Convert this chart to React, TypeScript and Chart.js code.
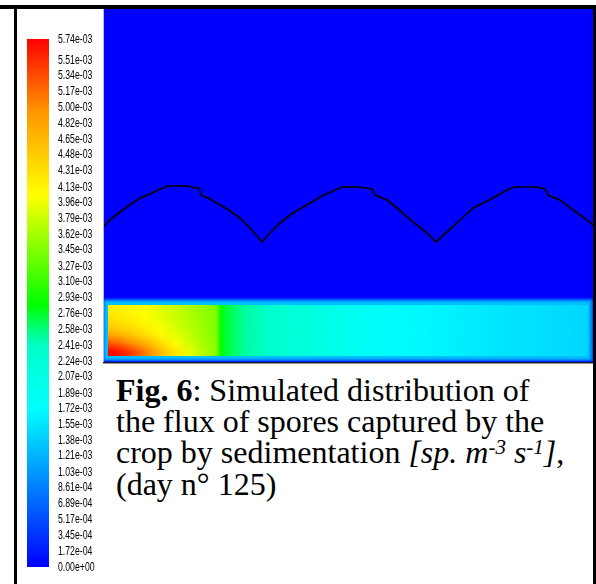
import React, { useEffect, useRef } from 'react';
import { Chart, registerables } from 'chart.js';

Chart.register(...registerables);

// ---- Colour scale (flux of spores, sp. m-3 s-1, values in 1e-3) ----
const legendValues = [
  5.74, 5.51, 5.34, 5.17, 5.0, 4.82, 4.65, 4.48, 4.31, 4.13, 3.96, 3.79, 3.62, 3.45, 3.27, 3.1, 2.93,
  2.76, 2.58, 2.41, 2.24, 2.07, 1.89, 1.72, 1.55, 1.38, 1.21, 1.03, 0.861, 0.689, 0.517, 0.345, 0.172, 0,
];
const legendLabels = [
  '5.74e-03', '5.51e-03', '5.34e-03', '5.17e-03', '5.00e-03', '4.82e-03', '4.65e-03', '4.48e-03',
  '4.31e-03', '4.13e-03', '3.96e-03', '3.79e-03', '3.62e-03', '3.45e-03', '3.27e-03', '3.10e-03',
  '2.93e-03', '2.76e-03', '2.58e-03', '2.41e-03', '2.24e-03', '2.07e-03', '1.89e-03', '1.72e-03',
  '1.55e-03', '1.38e-03', '1.21e-03', '1.03e-03', '8.61e-04', '6.89e-04', '5.17e-04', '3.45e-04',
  '1.72e-04', '0.00e+00',
];
const scaleMin = 0;
const scaleMax = 5.74;
const cmapValues = [0, 1.72, 2.41, 2.85, 4.04, 4.95, 5.74];
const cmapColors = [
  [0, 0, 255], [0, 255, 255], [0, 255, 200], [0, 255, 0], [255, 255, 0], [255, 150, 0], [255, 0, 0],
];

// ---- Domain (m) ----
const domainX = [0, 4.9];
const domainY = [0, 3.54];

// ---- Canopy boundary (black line) ----
const canopyX = [
  0.0, 0.07, 0.17, 0.27, 0.37, 0.47, 0.57, 0.65, 0.84, 0.96, 0.98, 1.07, 1.24, 1.37, 1.47, 1.59,
  1.67, 1.77, 1.9, 2.04, 2.17, 2.3, 2.39, 2.57, 2.69, 2.72, 2.84, 2.94, 3.1, 3.24, 3.33,
  3.44, 3.57, 3.7, 3.9, 4.04, 4.12, 4.34, 4.42, 4.45, 4.57, 4.7, 4.84, 4.9,
];
const canopyY = [
  1.36, 1.43, 1.51, 1.58, 1.65, 1.69, 1.74, 1.77, 1.77, 1.745, 1.68, 1.64, 1.54, 1.45, 1.35, 1.21,
  1.3, 1.4, 1.5, 1.58, 1.66, 1.72, 1.76, 1.76, 1.74, 1.68, 1.63, 1.55, 1.41, 1.3, 1.21,
  1.31, 1.43, 1.55, 1.65, 1.73, 1.76, 1.76, 1.74, 1.68, 1.63, 1.53, 1.43, 1.38,
];

// ---- Crop layer (flux field, 1e-3) ----
const cropX = [0, 4.9];
const cropY = [0.02, 0.64];
const fieldColX = [0.05, 0.15, 0.27, 0.42, 0.57, 0.72, 0.87, 1.02, 1.13, 1.18, 1.25, 1.42, 1.67, 2.07, 2.57, 3.17, 3.97, 4.85];
const fieldRowY = [0.54, 0.455, 0.37, 0.285, 0.2, 0.115];
const fieldRow1 = [4.2, 4.17, 4.1, 4.02, 3.9, 3.78, 3.65, 3.52, 3.42, 2.85, 2.7, 2.5, 2.35, 2.15, 1.85, 1.68, 1.55, 1.45];
const fieldRow2 = [4.28, 4.24, 4.16, 4.06, 3.93, 3.8, 3.67, 3.53, 3.43, 2.85, 2.7, 2.5, 2.35, 2.15, 1.85, 1.68, 1.55, 1.45];
const fieldRow3 = [4.45, 4.4, 4.3, 4.15, 3.99, 3.84, 3.7, 3.55, 3.44, 2.85, 2.7, 2.5, 2.35, 2.15, 1.85, 1.68, 1.55, 1.45];
const fieldRow4 = [4.8, 4.72, 4.56, 4.33, 4.1, 3.92, 3.75, 3.57, 3.45, 2.85, 2.7, 2.5, 2.35, 2.15, 1.85, 1.68, 1.55, 1.45];
const fieldRow5 = [5.3, 5.2, 5.0, 4.7, 4.35, 4.05, 3.82, 3.6, 3.47, 2.85, 2.7, 2.5, 2.35, 2.15, 1.85, 1.68, 1.55, 1.45];
const fieldRow6 = [5.74, 5.66, 5.45, 5.1, 4.65, 4.25, 3.92, 3.65, 3.5, 2.85, 2.7, 2.5, 2.35, 2.15, 1.85, 1.68, 1.55, 1.45];
const fieldRows = [fieldRow1, fieldRow2, fieldRow3, fieldRow4, fieldRow5, fieldRow6];

function cmap(v: number): string {
  const n = cmapValues.length;
  if (v <= cmapValues[0]) return `rgb(${cmapColors[0].join(',')})`;
  if (v >= cmapValues[n - 1]) return `rgb(${cmapColors[n - 1].join(',')})`;
  for (let i = 0; i < n - 1; i++) {
    if (v <= cmapValues[i + 1]) {
      const t = (v - cmapValues[i]) / (cmapValues[i + 1] - cmapValues[i]);
      const a = cmapColors[i];
      const b = cmapColors[i + 1];
      const c = a.map((ai, k) => Math.round(ai + (b[k] - ai) * t));
      return `rgb(${c.join(',')})`;
    }
  }
  return 'rgb(0,0,255)';
}

const fieldPlugin = {
  id: 'fieldPlugin',
  beforeDatasetsDraw(chart: any) {
    const { ctx, chartArea: a, scales } = chart;
    const x = scales.x;
    const y = scales.y;
    ctx.save();
    ctx.fillStyle = 'rgb(0,0,255)';
    ctx.fillRect(a.left, a.top, a.right - a.left, a.bottom - a.top);

    const L = x.getPixelForValue(cropX[0]);
    const R = x.getPixelForValue(cropX[1]);
    const T = y.getPixelForValue(cropY[1]);
    const B = y.getPixelForValue(cropY[0]);
    ctx.filter = 'blur(1px)';
    ctx.fillStyle = 'rgb(0,110,255)';
    ctx.fillRect(L, T, R - L, B - T);
    ctx.fillStyle = 'rgb(0,190,255)';
    ctx.fillRect(L + 1.5, T + 2, R - L - 4, B - T - 3.5);
    ctx.filter = 'none';

    const last = fieldColX.length - 1;
    const fx0 = x.getPixelForValue(fieldColX[0]);
    const fx1 = x.getPixelForValue(fieldColX[last]);
    const w = Math.max(1, Math.round(fx1 - fx0));
    const off = document.createElement('canvas');
    off.width = w;
    off.height = fieldRows.length;
    const oc = off.getContext('2d') as CanvasRenderingContext2D;
    fieldRows.forEach((row, r) => {
      const g = oc.createLinearGradient(0, 0, w, 0);
      row.forEach((v, i) => {
        const p = (x.getPixelForValue(fieldColX[i]) - fx0) / (fx1 - fx0);
        g.addColorStop(Math.min(1, Math.max(0, p)), cmap(v));
      });
      oc.fillStyle = g;
      oc.fillRect(0, r, w, 1);
    });
    const dy = fieldRowY[0] - fieldRowY[1];
    const fy0 = y.getPixelForValue(fieldRowY[0] + dy / 2);
    const fy1 = y.getPixelForValue(fieldRowY[fieldRowY.length - 1] - dy / 2);
    ctx.imageSmoothingEnabled = true;
    ctx.imageSmoothingQuality = 'high';
    ctx.drawImage(off, fx0, fy0, fx1 - fx0, fy1 - fy0);
    ctx.restore();
  },
};

// Narrow tick labels: the axis draws its own labels, squeezed horizontally.
const labelSqueeze = 0.67;
const narrowLabelsPlugin = {
  id: 'narrowLabels',
  beforeDraw(chart: any) {
    const s = chart.scales.y;
    if (!s || s.__narrow) return;
    const orig = s.drawLabels;
    s.drawLabels = function (area: any) {
      const c = chart.ctx;
      const x0 = s.left + (s.options.ticks.padding || 0);
      const savedRight = s.right;
      s.right = savedRight + 200;
      c.save();
      c.translate(x0, 0);
      c.scale(labelSqueeze, 1);
      c.translate(-x0, 0);
      orig.call(s, area);
      c.restore();
      s.right = savedRight;
    };
    s.__narrow = true;
  },
};

export default function App() {
  const mainRef = useRef<HTMLCanvasElement>(null);
  const barRef = useRef<HTMLCanvasElement>(null);

  useEffect(() => {
    const main = new Chart(mainRef.current as HTMLCanvasElement, {
      type: 'scatter',
      data: {
        datasets: [
          {
            data: canopyX.map((xv, i) => ({ x: xv, y: canopyY[i] })),
            showLine: true,
            borderColor: '#000000',
            borderWidth: 1.7,
            pointRadius: 0,
            tension: 0,
            fill: false,
          },
        ],
      },
      options: {
        animation: false,
        responsive: false,
        events: [],
        layout: { padding: 0 },
        plugins: { legend: { display: false }, tooltip: { enabled: false } },
        scales: {
          x: { type: 'linear', min: domainX[0], max: domainX[1], display: false },
          y: { type: 'linear', min: domainY[0], max: domainY[1], display: false },
        },
      },
      plugins: [fieldPlugin],
    } as any);

    const bar = new Chart(barRef.current as HTMLCanvasElement, {
      type: 'bar',
      data: {
        labels: ['flux'],
        datasets: [
          {
            data: [[scaleMin, scaleMax]],
            borderWidth: 0,
            barPercentage: 1,
            categoryPercentage: 1,
            backgroundColor: (c: any) => {
              const ch = c.chart;
              if (!ch.chartArea) return 'blue';
              const ys = ch.scales.y;
              const p0 = ys.getPixelForValue(scaleMin);
              const p1 = ys.getPixelForValue(scaleMax);
              const g = ch.ctx.createLinearGradient(0, p0, 0, p1);
              cmapValues.forEach((v, i) => {
                g.addColorStop((v - scaleMin) / (scaleMax - scaleMin), `rgb(${cmapColors[i].join(',')})`);
              });
              return g;
            },
          },
        ],
      },
      options: {
        animation: false,
        responsive: false,
        events: [],
        layout: { padding: { left: 27, top: 39, bottom: 17, right: 0 } },
        plugins: { legend: { display: false }, tooltip: { enabled: false } },
        scales: {
          x: { display: false },
          y: {
            position: 'right',
            min: scaleMin,
            max: scaleMax,
            afterBuildTicks: (axis: any) => {
              axis.ticks = legendValues.map((v) => ({ value: v }));
            },
            afterFit: (axis: any) => {
              axis.width = 54;
            },
            grid: { display: false, drawTicks: false },
            border: { display: false },
            ticks: {
              autoSkip: false,
              padding: 9,
              color: '#000000',
              font: { family: '"Liberation Sans", Arial, sans-serif', size: 13 },
              callback: (_v: any, i: number) => legendLabels[i],
            },
          },
        },
      },
      plugins: [narrowLabelsPlugin],
    } as any);

    return () => {
      main.destroy();
      bar.destroy();
    };
  }, []);

  const line = (l: number, t: number, w: number, h: number, c: string) => (
    <div style={{ position: 'absolute', left: l, top: t, width: w, height: h, background: c, zIndex: 3 }} />
  );

  return (
    <div style={{ position: 'absolute', left: 0, top: 0, width: 596, height: 584, background: '#ffffff', overflow: 'hidden' }}>
      <canvas
        ref={barRef}
        width={103}
        height={584}
        style={{ position: 'absolute', left: 0, top: 0, width: 103, height: 584 }}
      />
      <canvas
        ref={mainRef}
        width={490}
        height={354}
        style={{ position: 'absolute', left: 103, top: 9, width: 490, height: 354 }}
      />
      {line(0, 5, 595, 4, '#000')}
      {line(14, 5, 3, 579, '#000')}
      {line(593, 5, 3, 579, '#000')}
      {line(103, 9, 1, 354, '#b8b8e8')}
      {line(103, 362, 490, 1, '#101030')}
      {line(103, 363, 490, 1, '#9a9a9a')}
      <div
        style={{
          position: 'absolute',
          left: 116,
          top: 374.5,
          fontFamily: '"Liberation Serif", "Times New Roman", serif',
          fontSize: 32,
          lineHeight: '31.4px',
          color: '#000',
          whiteSpace: 'nowrap',
        }}
      >
        <b>Fig. 6</b>: Simulated distribution of
        <br />
        the flux of spores captured by the
        <br />
        crop by sedimentation{' '}
        <i>
          [sp. m
          <span style={{ fontSize: 21, position: 'relative', top: -9, lineHeight: 0 }}>-3</span> s
          <span style={{ fontSize: 21, position: 'relative', top: -9, lineHeight: 0 }}>-1</span>]
        </i>
        ,
        <br />
        (day n° 125)
      </div>
    </div>
  );
}
